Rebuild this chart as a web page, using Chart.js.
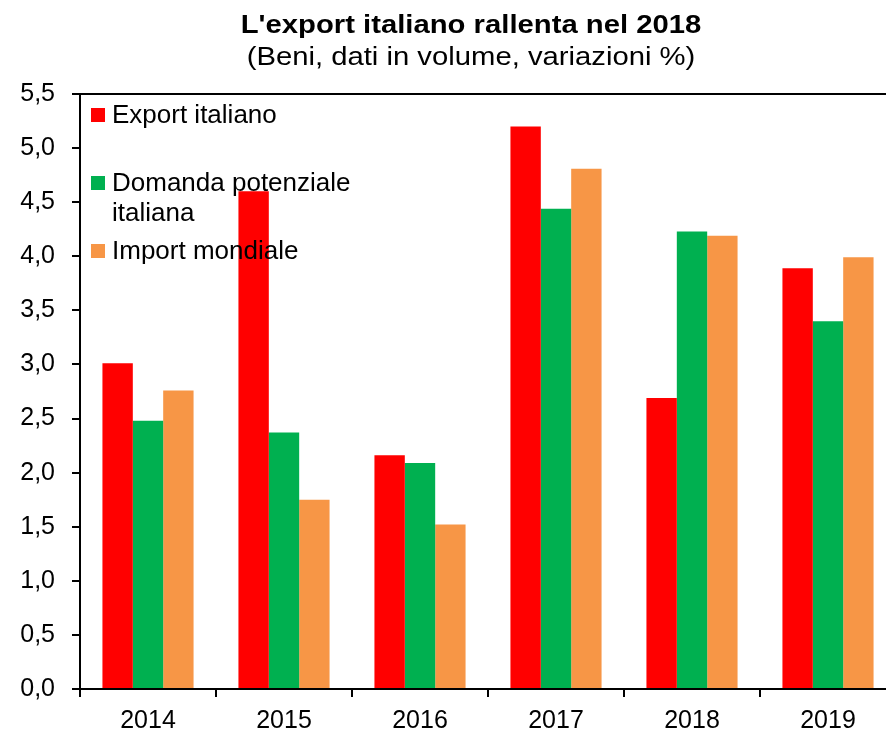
<!DOCTYPE html>
<html lang="it">
<head>
<meta charset="utf-8">
<title>L'export italiano rallenta nel 2018</title>
<script src="https://cdn.jsdelivr.net/npm/chart.js@4/dist/chart.umd.min.js"></script>
<style>
  html, body { margin: 0; padding: 0; background: #fff; overflow: hidden; }
  #wrap { position: relative; width: 896px; height: 732px; }
</style>
</head>
<body>
<div id="wrap"><canvas id="chart"></canvas></div>
<script>
// Data
const categories = ['2014', '2015', '2016', '2017', '2018', '2019'];
const exportItaliano = [3.01, 4.60, 2.16, 5.20, 2.69, 3.89];
const domandaPotenziale = [2.48, 2.37, 2.09, 4.44, 4.23, 3.40];
const importMondiale = [2.76, 1.75, 1.52, 4.81, 4.19, 3.99];
const seriesLabels = ['Export italiano', 'Domanda potenziale italiana', 'Import mondiale'];
const legendLines = [['Export italiano'], ['Domanda potenziale', 'italiana'], ['Import mondiale']];
const titleText = "L'export italiano rallenta nel 2018";
const subtitleText = '(Beni, dati in volume, variazioni %)';

const colors = ['#ff0000', '#00b050', '#f79646'];
const FONT = '"Liberation Sans", Arial, sans-serif';

// Title + subtitle, slightly widened like the original
const titlePlugin = {
  id: 'titleText',
  afterDraw(chart) {
    const ctx = chart.ctx;
    ctx.save();
    ctx.fillStyle = '#000';
    ctx.textAlign = 'center';
    ctx.textBaseline = 'alphabetic';
    ctx.translate(471, 0);
    ctx.scale(1.17, 1);
    ctx.font = 'bold 25px ' + FONT;
    ctx.fillText(titleText, 0, 33);
    ctx.font = '25px ' + FONT;
    ctx.fillText(subtitleText, 0, 65);
    ctx.restore();
  }
};

// Legend drawn inside the plot, top-left
const legendPlugin = {
  id: 'insideLegend',
  afterDatasetsDraw(chart) {
    const ctx = chart.ctx;
    const rows = [115, 183, 251];
    ctx.save();
    ctx.font = '26px ' + FONT;
    ctx.textBaseline = 'middle';
    ctx.textAlign = 'left';
    legendLines.forEach((lines, i) => {
      ctx.fillStyle = colors[i];
      ctx.fillRect(91, rows[i] - 7, 14, 14);
      ctx.fillStyle = '#000';
      lines.forEach((txt, j) => ctx.fillText(txt, 112, rows[i] + 1 + j * 30));
    });
    ctx.restore();
  }
};

new Chart(document.getElementById('chart'), {
  type: 'bar',
  data: {
    labels: categories,
    datasets: [
      { label: seriesLabels[0], data: exportItaliano, backgroundColor: colors[0] },
      { label: seriesLabels[1], data: domandaPotenziale, backgroundColor: colors[1] },
      { label: seriesLabels[2], data: importMondiale, backgroundColor: colors[2] }
    ]
  },
  options: {
    responsive: true,
    maintainAspectRatio: false,
    animation: false,
    layout: { padding: { top: 94, left: 0, right: 0, bottom: 0 } },
    datasets: {
      bar: { categoryPercentage: 0.67, barPercentage: 1.0, borderWidth: 0 }
    },
    plugins: {
      legend: { display: false },
      title: { display: false },
      tooltip: { enabled: false }
    },
    scales: {
      x: {
        offset: true,
        grid: {
          offset: true,
          drawOnChartArea: false,
          drawTicks: true,
          tickLength: 8,
          tickColor: '#000',
          lineWidth: 2
        },
        border: { display: true, color: '#000', width: 2 },
        ticks: { color: '#000', font: { family: FONT, size: 25 }, padding: 9 },
        afterFit(scale) { scale.height = 43; }
      },
      y: {
        min: 0,
        max: 5.5,
        grid: {
          drawOnChartArea: true,
          color: (c) => (c.tick && c.tick.value === 5.5 ? '#000' : 'rgba(0,0,0,0)'),
          tickColor: '#000',
          tickLength: 8,
          lineWidth: 2
        },
        border: { display: true, color: '#000', width: 2 },
        ticks: {
          stepSize: 0.5,
          color: '#000',
          padding: 17,
          font: { family: FONT, size: 25 },
          callback: (v) => Number(v).toFixed(1).replace('.', ',')
        },
        afterFit(scale) { scale.width = 80; }
      }
    }
  },
  plugins: [titlePlugin, legendPlugin]
});
</script>
</body>
</html>
